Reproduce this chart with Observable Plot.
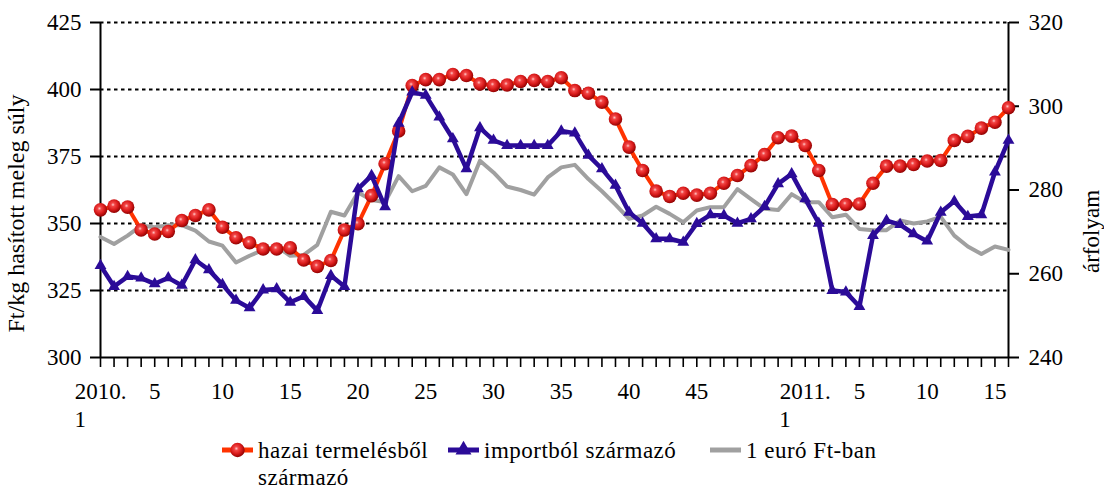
<!DOCTYPE html>
<html>
<head>
<meta charset="utf-8">
<script src="https://cdn.jsdelivr.net/npm/d3@7"></script>
<script src="https://cdn.jsdelivr.net/npm/@observablehq/plot@0.6"></script>
<style>
  html, body { margin: 0; padding: 0; background: #fff; }
  #wrap { position: relative; width: 1104px; height: 489px; font-family: 'Liberation Serif', serif; color: #000; }
  #legend { position: absolute; left: 0; top: 430px; width: 1104px; height: 59px; }
  .sw { position: absolute; top: 10px; }
  .lt { position: absolute; top: 7px; font-size: 23px; line-height: 27px; letter-spacing: 0.5px; white-space: nowrap; }
</style>
</head>
<body>
<div id="wrap"><div id="chart"></div><div id="legend"></div></div>
<script>
// ---- Data ----
// Weeks: 2010 week 1..52, then 2011 week 1..16 (68 weekly categories)
const weeks = [
  ...Array.from({length: 52}, (_, k) => `2010/${k + 1}`),
  ...Array.from({length: 16}, (_, k) => `2011/${k + 1}`)
];

// hazai termelésből származó (Ft/kg, left axis)
const hazai = [
  355.1, 356.5, 356.1, 347.6, 346.1, 347.0, 351.1, 353.0, 355.1, 348.6,
  344.7, 342.8, 340.5, 340.5, 340.9, 336.4, 334.0, 336.2, 347.6, 349.9,
  360.4, 372.3, 384.5, 401.5, 403.7, 403.7, 405.6, 405.2, 402.1, 401.5,
  401.7, 403.0, 403.4, 403.0, 404.4, 399.6, 398.6, 395.3, 389.0, 378.5,
  369.8, 362.1, 360.1, 361.3, 360.6, 361.3, 365.0, 367.9, 371.6, 375.7,
  382.0, 382.6, 379.1, 369.8, 357.1, 357.1, 357.3, 365.0, 371.4, 371.4,
  372.0, 373.3, 373.5, 381.0, 382.5, 385.6, 387.8, 393.2
];

// importból származó (Ft/kg, left axis)
const importbol = [
  334.3, 326.5, 330.2, 329.6, 327.5, 329.7, 326.9, 336.4, 332.7, 327.2,
  321.3, 318.5, 325.2, 325.6, 320.6, 322.8, 317.5, 330.6, 326.5, 362.9,
  367.9, 356.2, 387.4, 399.0, 397.8, 389.7, 381.6, 370.4, 385.7, 381.0,
  379.1, 379.1, 379.1, 379.1, 384.5, 383.7, 375.4, 370.4, 364.2, 354.2,
  350.1, 344.3, 344.3, 343.0, 350.0, 353.2, 353.0, 350.1, 351.7, 356.3,
  364.8, 368.5, 359.2, 350.1, 325.0, 324.4, 319.0, 345.5, 351.1, 349.6,
  346.1, 343.4, 354.2, 358.3, 352.6, 353.2, 369.2, 381.0
];

// 1 euró Ft-ban (right axis, árfolyam)
const euro = [
  268.8, 267.1, 269.1, 271.5, 271.1, 271.6, 271.6, 270.3, 267.7, 266.7,
  262.7, 264.3, 265.7, 266.5, 264.3, 264.5, 266.9, 274.8, 273.9, 279.4,
  277.6, 277.1, 283.3, 279.7, 281.0, 285.4, 283.7, 279.0, 287.0, 284.2,
  280.8, 280.0, 278.9, 283.0, 285.4, 286.0, 282.6, 279.7, 276.5, 273.1,
  273.9, 276.0, 274.3, 272.3, 275.1, 275.9, 275.9, 280.2, 277.8, 275.5,
  275.2, 279.0, 277.1, 277.1, 273.5, 274.1, 270.7, 270.4, 270.4, 272.7,
  272.0, 272.5, 273.6, 269.1, 266.5, 264.7, 266.5, 265.7
];

// Axis ticks and labels
const leftTicks = [300, 325, 350, 375, 400, 425];
const gridTicks = [325, 350, 375, 400, 425];
const rightTicks = [240, 260, 280, 300, 320];
const leftDomain = [300, 425];
const rightDomain = [240, 320];
const xLabelIdx = [0, 4, 9, 14, 19, 24, 29, 34, 39, 44, 52, 56, 61, 66];
const xLabelText = ["2010.", "5", "10", "15", "20", "25", "30", "35", "40", "45", "2011.", "5", "10", "15"];
const xLabel2Idx = [0, 52];
const xLabel2Text = ["1", "1"];
const yTitleLeft = "Ft/kg hasított meleg súly";
const yTitleRight = "árfolyam";
const seriesNames = ["hazai termelésből<br>származó", "importból származó", "1 euró Ft-ban"];

// ---- Build ----
const toLeft = e => leftDomain[0] + (e - rightDomain[0]) * (leftDomain[1] - leftDomain[0]) / (rightDomain[1] - rightDomain[0]);
const fromLeft = v => Math.round(rightDomain[0] + (v - leftDomain[0]) * (rightDomain[1] - rightDomain[0]) / (leftDomain[1] - leftDomain[0]));

const data = weeks.map((w, i) => ({i, w, hazai: hazai[i], imp: importbol[i], euro: euro[i]}));
const lab1 = xLabelIdx.map((i, k) => ({i, t: xLabelText[k]}));
const lab2 = xLabel2Idx.map((i, k) => ({i, t: xLabel2Text[k]}));

const RED = "#ff3300", BLUE = "#2b0b98", GRAY = "#a0a0a0";
const FS = 23;

const chart = Plot.plot({
  width: 1104,
  height: 430,
  marginLeft: 100,
  marginRight: 96,
  marginTop: 22,
  marginBottom: 73,
  x: {domain: [0, weeks.length - 1]},
  y: {domain: leftDomain},
  style: {fontFamily: "'Liberation Serif', serif", fontSize: FS + "px", color: "#000", background: "#fff", overflow: "visible"},
  marks: [
    Plot.ruleY(gridTicks, {stroke: "#000", strokeWidth: 2, strokeDasharray: "3.5,3.5"}),
    Plot.ruleX([0, weeks.length - 1], {stroke: "#000", strokeWidth: 2}),
    Plot.ruleY([leftDomain[0]], {stroke: "#000", strokeWidth: 2}),
    Plot.axisY(leftTicks, {anchor: "left", tickSize: 10, tickPadding: 9, label: null, fontSize: FS, strokeWidth: 2}),
    Plot.axisY(rightTicks.map(toLeft), {anchor: "right", tickSize: 10, tickPadding: 10, label: null, fontSize: FS, strokeWidth: 2, tickFormat: d => fromLeft(d)}),
    Plot.axisX(data.map(d => d.i), {anchor: "bottom", tickSize: 10, tickFormat: () => "", label: null, strokeWidth: 1.6}),
    Plot.text(lab1, {x: "i", text: "t", frameAnchor: "bottom", lineAnchor: "top", dy: 25, fontSize: FS}),
    Plot.text(lab2, {x: "i", text: "t", frameAnchor: "bottom", lineAnchor: "top", dy: 53, dx: -26, textAnchor: "start", fontSize: FS}),
    Plot.text([yTitleLeft], {text: d => d, frameAnchor: "left", rotate: -90, dx: -84, dy: 23.5, lineAnchor: "middle", textAnchor: "middle", fontSize: 24}),
    Plot.text([yTitleRight], {text: d => d, frameAnchor: "right", rotate: -90, dx: 83, dy: 41.5, lineAnchor: "middle", textAnchor: "middle", fontSize: 23}),
    Plot.line(data, {x: "i", y: d => toLeft(d.euro), stroke: GRAY, strokeWidth: 4}),
    Plot.line(data, {x: "i", y: "hazai", stroke: RED, strokeWidth: 4}),
    Plot.dot(data, {x: "i", y: "hazai", r: 6.8, fill: "url(#sph)", stroke: "none"}),
    Plot.line(data, {x: "i", y: "imp", stroke: BLUE, strokeWidth: 4.5}),
    Plot.dot(data, {x: "i", y: "imp", symbol: "triangle", r: 4.4, fill: BLUE, stroke: "none"})
  ]
});

const gradDef = `<radialGradient id="%ID%" cx="0.42" cy="0.4" r="0.62">
  <stop offset="0" stop-color="#ffc8c8"/>
  <stop offset="0.22" stop-color="#f24545"/>
  <stop offset="0.6" stop-color="#d81a1a"/>
  <stop offset="1" stop-color="#8c0000"/>
</radialGradient>`;
d3.select(chart).insert("defs", ":first-child").html(gradDef.replace("%ID%", "sph"));
document.getElementById("chart").appendChild(chart);

// ---- Legend (below the SVG) ----
const legend = d3.select("#legend");
const items = [
  {sx: 222, tx: 258, color: RED, marker: "sphere", name: seriesNames[0]},
  {sx: 448, tx: 484, color: BLUE, marker: "triangle", name: seriesNames[1]},
  {sx: 710, tx: 746, color: GRAY, marker: null, name: seriesNames[2]}
];
items.forEach((it, k) => {
  const s = legend.append("svg").attr("class", "sw").attr("width", 32).attr("height", 20)
    .style("left", it.sx + "px");
  if (k === 0) s.append("defs").html(gradDef.replace("%ID%", "sphL"));
  s.append("line").attr("x1", 0).attr("x2", 31).attr("y1", 10).attr("y2", 10)
    .attr("stroke", it.color).attr("stroke-width", 5);
  if (it.marker === "sphere") {
    s.append("circle").attr("cx", 15.5).attr("cy", 10).attr("r", 7.2).attr("fill", "url(#sphL)");
  } else if (it.marker === "triangle") {
    s.append("path").attr("d", d3.symbol(d3.symbolTriangle, 110)()).attr("transform", "translate(15.5,10)").attr("fill", it.color);
  }
  legend.append("div").attr("class", "lt").style("left", it.tx + "px").html(it.name);
});
</script>
</body>
</html>
